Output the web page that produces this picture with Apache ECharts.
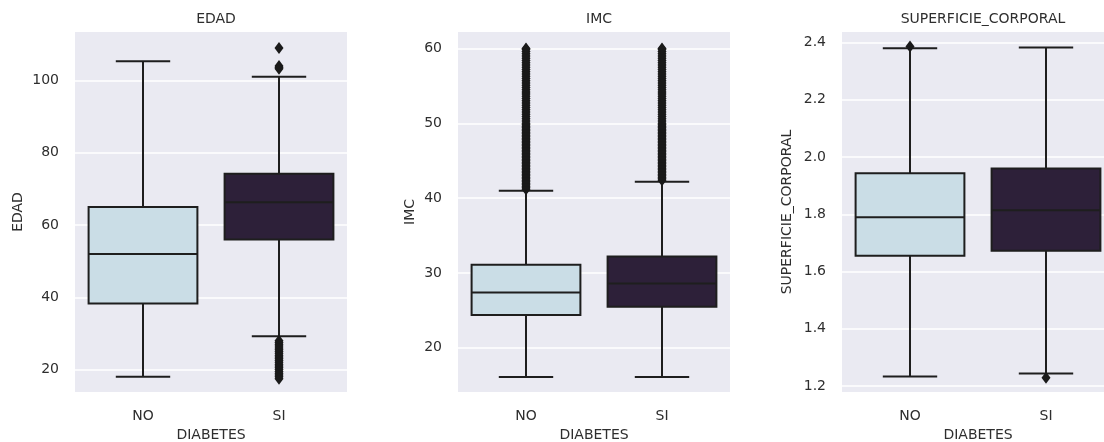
<!DOCTYPE html>
<html>
<head>
<meta charset="utf-8">
<script src="https://cdn.jsdelivr.net/npm/echarts@6/dist/echarts.min.js"></script>
<style>
html,body{margin:0;padding:0;background:#fff;}
#chart{width:1104px;height:442px;}
</style>
</head>
<body>
<div id="chart"></div>
<script>
// ---- data ----
const categories = ['NO', 'SI'];
const panelTitles = ['EDAD', 'IMC', 'SUPERFICIE_CORPORAL'];
const xAxisTitle = 'DIABETES';

// [whisker low, q1, median, q3, whisker high]
const edadNO = [18, 38.3, 52, 65, 105.3];
const edadSI = [29.2, 56, 66.3, 74.2, 101];
const imcNO = [16.1, 24.4, 27.4, 31.1, 41];
const imcSI = [16.1, 25.5, 28.6, 32.2, 42.2];
const scNO = [1.233, 1.655, 1.79, 1.943, 2.38];
const scSI = [1.244, 1.673, 1.814, 1.96, 2.383];

// outliers
const edadOutNO = [];
const edadOutSI = [109, 104, 103.6, 103.2, 28, 27.5, 27, 26.5, 26, 25.5, 25, 24.5, 24, 23.5, 23, 22.5, 22, 21.5, 21, 20.5, 20, 19.5, 19, 18.5, 18, 17.5];
const imcOutNO = [41.2, 41.4, 41.6, 41.8, 42, 42.2, 42.4, 42.6, 42.8, 43, 43.2, 43.4, 43.6, 43.8, 44, 44.2, 44.4, 44.6, 44.8, 45, 45.2, 45.4, 45.6, 45.8, 46, 46.2, 46.4, 46.6, 46.8, 47, 47.2, 47.4, 47.6, 47.8, 48, 48.2, 48.4, 48.6, 48.8, 49, 49.2, 49.4, 49.6, 49.8, 50, 50.3, 50.6, 50.9, 51.2, 51.5, 51.8, 52.1, 52.4, 52.7, 53, 53.3, 53.6, 53.9, 54.2, 54.5, 54.8, 55.1, 55.4, 55.7, 56, 56.3, 56.6, 56.9, 57.2, 57.5, 57.8, 58.1, 58.4, 58.7, 59, 59.3, 59.6, 59.9, 60];
const imcOutSI = [42.4, 42.6, 42.8, 43, 43.2, 43.4, 43.6, 43.8, 44, 44.2, 44.4, 44.6, 44.8, 45, 45.2, 45.4, 45.6, 45.8, 46, 46.2, 46.4, 46.6, 46.8, 47, 47.2, 47.4, 47.6, 47.8, 48, 48.2, 48.4, 48.6, 48.8, 49, 49.2, 49.4, 49.6, 49.8, 50, 50.3, 50.6, 50.9, 51.2, 51.5, 51.8, 52.1, 52.4, 52.7, 53, 53.3, 53.6, 53.9, 54.2, 54.5, 54.8, 55.1, 55.4, 55.7, 56, 56.3, 56.6, 56.9, 57.2, 57.5, 57.8, 58.1, 58.4, 58.7, 59, 59.3, 59.6, 59.9, 60];
const scOutNO = [2.386];
const scOutSI = [1.229];

// tick labels
const edadTicks = [20, 40, 60, 80, 100];
const imcTicks = [20, 30, 40, 50, 60];
const scTicks = [1.2, 1.4, 1.6, 1.8, 2.0, 2.2, 2.4];

// ---- layout / style ----
const FILLS = ['#CADDE6', '#2D2039'];
const EDGE = '#1e1e1e';
const TXT = '#2e2e2e';
const FONT = 'DejaVu Sans';
const FS = 14;

const panels = [
  {title: panelTitles[0], box: [edadNO, edadSI], out: [edadOutNO, edadOutSI], ticks: edadTicks, min: 13.8, max: 113.4, left: 75, nameGap: 50, fmt: v => String(v)},
  {title: panelTitles[1], box: [imcNO, imcSI], out: [imcOutNO, imcOutSI], ticks: imcTicks, min: 14.1, max: 62.2, left: 458, nameGap: 41, fmt: v => String(v)},
  {title: panelTitles[2], box: [scNO, scSI], out: [scOutNO, scOutSI], ticks: scTicks, min: 1.179, max: 2.437, left: 842, nameGap: 48, fmt: v => Number(v).toFixed(1)}
];
const PW = 272, TOP = 32, PH = 360;

function renderBox(params, api) {
  const x = api.value(0);
  const lo = api.coord([x, api.value(1)]);
  const q1 = api.coord([x, api.value(2)]);
  const md = api.coord([x, api.value(3)]);
  const q3 = api.coord([x, api.value(4)]);
  const hi = api.coord([x, api.value(5)]);
  const band = api.size([1, 0])[0];
  const bw = band * 0.8;
  const cw = bw / 2;
  const cx = lo[0];
  const ls = {stroke: EDGE, lineWidth: 2};
  return {
    type: 'group',
    children: [
      {type: 'line', shape: {x1: cx, y1: lo[1], x2: cx, y2: q1[1]}, style: ls},
      {type: 'line', shape: {x1: cx, y1: q3[1], x2: cx, y2: hi[1]}, style: ls},
      {type: 'line', shape: {x1: cx - cw / 2, y1: lo[1], x2: cx + cw / 2, y2: lo[1]}, style: ls},
      {type: 'line', shape: {x1: cx - cw / 2, y1: hi[1], x2: cx + cw / 2, y2: hi[1]}, style: ls},
      {type: 'rect', shape: {x: cx - bw / 2, y: q3[1], width: bw, height: q1[1] - q3[1]}, style: {fill: FILLS[x], stroke: EDGE, lineWidth: 2}},
      {type: 'line', shape: {x1: cx - bw / 2, y1: md[1], x2: cx + bw / 2, y2: md[1]}, style: ls}
    ]
  };
}

const option = {
  animation: false,
  backgroundColor: '#ffffff',
  textStyle: {fontFamily: FONT},
  title: [], grid: [], xAxis: [], yAxis: [], series: []
};

panels.forEach((p, i) => {
  option.title.push({
    text: p.title, left: p.left + PW / 2, top: 7, textAlign: 'center',
    textStyle: {fontFamily: FONT, fontSize: FS, fontWeight: 'normal', color: TXT}
  });
  option.grid.push({left: p.left, top: TOP, width: PW, height: PH, show: true, backgroundColor: '#EAEAF2', borderWidth: 0, containLabel: false, outerBoundsMode: 'none'});
  option.xAxis.push({
    type: 'category', gridIndex: i, data: categories, boundaryGap: true,
    name: xAxisTitle, nameLocation: 'middle', nameGap: 36,
    nameTextStyle: {fontFamily: FONT, fontSize: FS, color: TXT},
    axisLine: {show: false}, axisTick: {show: false}, splitLine: {show: false},
    axisLabel: {fontFamily: FONT, fontSize: FS, color: TXT, margin: 17}
  });
  option.yAxis.push({
    type: 'value', gridIndex: i, min: p.min, max: p.max,
    name: p.title, nameLocation: 'middle', nameGap: p.nameGap,
    nameTextStyle: {fontFamily: FONT, fontSize: FS, color: TXT},
    axisLine: {show: false},
    axisTick: {show: false, customValues: p.ticks},
    axisLabel: {fontFamily: FONT, fontSize: FS, color: TXT, margin: 16, customValues: p.ticks, formatter: p.fmt},
    splitLine: {show: true, lineStyle: {color: '#ffffff', width: 1.5}}
  });
  const boxData = p.box.map((b, k) => [k].concat(b));
  option.series.push({
    type: 'custom', xAxisIndex: i, yAxisIndex: i, renderItem: renderBox,
    data: boxData, encode: {x: 0, y: [1, 2, 3, 4, 5]}, z: 2, silent: true
  });
  const outData = [];
  p.out.forEach((arr, k) => arr.forEach(v => outData.push([k, v])));
  option.series.push({
    type: 'scatter', xAxisIndex: i, yAxisIndex: i, data: outData,
    symbol: 'diamond', symbolSize: [9, 12],
    itemStyle: {color: '#1a1a1a', opacity: 1}, z: 3, silent: true
  });
});

const chart = echarts.init(document.getElementById('chart'), null, {renderer: 'canvas'});
chart.setOption(option);
</script>
</body>
</html>
